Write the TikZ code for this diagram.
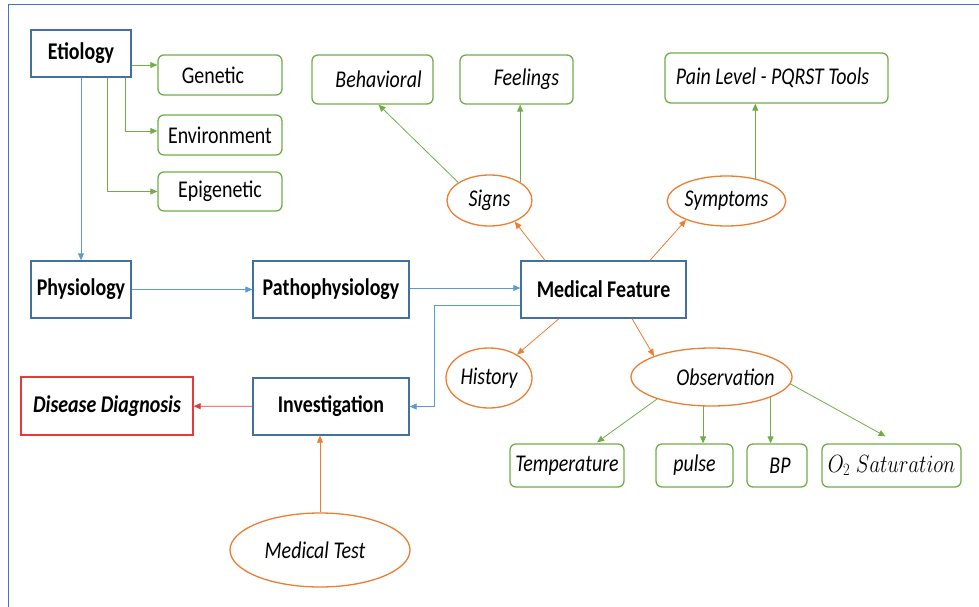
\documentclass[tikz,border=0pt]{standalone}
\usepackage{graphicx}
\usepackage{fontspec}
\setmainfont{Carlito}[FakeStretch=0.83]
\usetikzlibrary{shapes.geometric,arrows.meta}

\definecolor{boxblue}{RGB}{65,113,156}
\definecolor{lineblue}{RGB}{91,155,213}
\definecolor{leafgreen}{RGB}{112,173,71}
\definecolor{ovalorange}{RGB}{237,125,49}
\definecolor{diagred}{RGB}{235,55,55}
\definecolor{frameblue}{RGB}{68,114,196}
\newcommand{\diagfont}{\fontsize{24}{28}\selectfont}
\newcommand{\nudge}[2]{\hspace*{#1}#2\hspace*{-#1}}

\begin{document}
\begin{tikzpicture}[x=1pt, y=-1pt,
  stage/.style={draw=boxblue, line width=1.3pt, minimum height=57pt,
    inner sep=0pt, font=\diagfont\bfseries},
  leaf/.style={draw=leafgreen, line width=1.3pt, rounded corners=6pt,
    inner sep=0pt, minimum height=43pt, font=\diagfont},
  leafit/.style={leaf, font=\diagfont\itshape},
  oval/.style={ellipse, draw=ovalorange, line width=1.3pt, inner sep=0pt,
    font=\diagfont\itshape},
  tip/.style={-{Triangle[length=7pt,width=6pt]}, line width=0.8pt}]

  \useasboundingbox (0,0) rectangle (979,607);
  \draw[frameblue, line width=1.5pt] (8.5,607) -- (8.5,4.5) -- (979,4.5);

  % --- etiology ---
  \node[stage, minimum width=100pt, minimum height=47pt] (etio) at (81,53.5) {Etiology};
  \node[leaf, minimum width=124pt, minimum height=40pt] (genetic) at (220,75) {\nudge{-7pt}{Genetic}};
  \node[leaf, minimum width=124pt, minimum height=40pt] (environ) at (220,135) {Environment};
  \node[leaf, minimum width=124pt, minimum height=39pt] (epigen) at (220,191.5) {Epigenetic};

  \draw[tip, leafgreen] ([yshift=-11.5pt]etio.east) -- ([yshift=10pt]genetic.west);
  \draw[tip, leafgreen] ([xshift=44pt]etio.south) |- ([yshift=4pt]environ.west);
  \draw[tip, leafgreen] ([xshift=26pt]etio.south) |- (epigen.west);

  % --- main chain ---
  \node[stage, minimum width=100pt] (physio) at (81,289.5) {Physiology};
  \node[stage, minimum width=156pt] (patho) at (331,289.5) {Pathophysiology};
  \node[stage, minimum width=165pt] (medfeat) at (603.5,289.5) {Medical Feature};
  \node[stage, minimum width=156pt] (invest) at (331,406.5) {Investigation};
  \node[stage, draw=diagred, minimum width=172pt, minimum height=58pt,
    font=\diagfont\bfseries\itshape] (diagnosis) at (107,406) {Disease Diagnosis};
  \node[oval, minimum width=180pt, minimum height=74pt] (medtest) at (320,550) {\nudge{-5pt}{Medical Test}};

  \draw[tip, lineblue] (etio) -- (physio);
  \draw[tip, lineblue] (physio) -- (patho);
  \draw[tip, lineblue] ([yshift=1.5pt]patho.east) -- ([yshift=1.5pt]medfeat.west);
  \draw[tip, lineblue] ([yshift=-15.5pt]medfeat.west) -- ++(-86,0) |- (invest.east);
  \draw[tip, diagred] (invest) -- (diagnosis);
  \draw[tip, ovalorange] (medtest.north) -- (medtest.north |- invest.south);

  % --- signs and symptoms ---
  \node[oval, minimum width=85pt, minimum height=51pt] (signs) at (489.5,200.5) {Signs};
  \node[oval, minimum width=109pt, minimum height=50pt] (sympt) at (726.5,201) {Symptoms};
  \node[leafit, minimum width=121pt, minimum height=49pt] (behav) at (372.5,79.5) {\nudge{6pt}{Behavioral}};
  \node[leafit, minimum width=113pt, minimum height=49pt] (feel) at (516.5,79.5) {\nudge{10pt}{Feelings}};
  \node[leafit, minimum width=223pt, minimum height=50pt] (pain) at (776.5,78) {\nudge{-4pt}{Pain Level - PQRST Tools}};

  \draw[tip, ovalorange] ([xshift=-58.5pt]medfeat.north) -- (signs.-40);
  \draw[tip, leafgreen] (signs.150) -- ([xshift=6pt]behav.south);
  \draw[tip, leafgreen] (signs.31) -- (signs.31 |- feel.south);
  \draw[tip, ovalorange] ([xshift=46.5pt]medfeat.north) -- (sympt.-155);
  \draw[tip, leafgreen] (sympt.38) -- (sympt.38 |- pain.south);

  % --- history and observation ---
  \node[oval, minimum width=86pt, minimum height=60pt] (history) at (489,378) {History};
  \node[oval, minimum width=161pt, minimum height=58pt] (observ) at (711.5,377) {\nudge{14pt}{Observation}};
  \node[leafit, minimum width=114pt] (temp) at (567,465.5) {Temperature};
  \node[leafit, minimum width=77pt] (pulse) at (694.5,465.5) {pulse};
  \node[leafit, minimum width=60pt] (bp) at (777,465.5) {\nudge{3pt}{BP}};
  \node[leaf, minimum width=139pt] (osat) at (891.5,465.5) {\scalebox{0.83}[1]{$O_{2}\;Saturation$}};

  \draw[tip, ovalorange] ([xshift=-44.5pt]medfeat.south) -- (history.40);
  \draw[tip, ovalorange] ([xshift=28.5pt]medfeat.south) -- (observ.160);
  \draw[tip, leafgreen] (observ.-158) -- ([xshift=30pt,yshift=1pt]temp.north);
  \draw[tip, leafgreen] (observ.-106) -- (observ.-106 |- pulse.north);
  \draw[tip, leafgreen] (observ.-19) -- (observ.-19 |- bp.north);
  \draw[tip, leafgreen] (observ.-5) -- ([xshift=-6pt,yshift=7pt]osat.north);

\end{tikzpicture}
\end{document}
